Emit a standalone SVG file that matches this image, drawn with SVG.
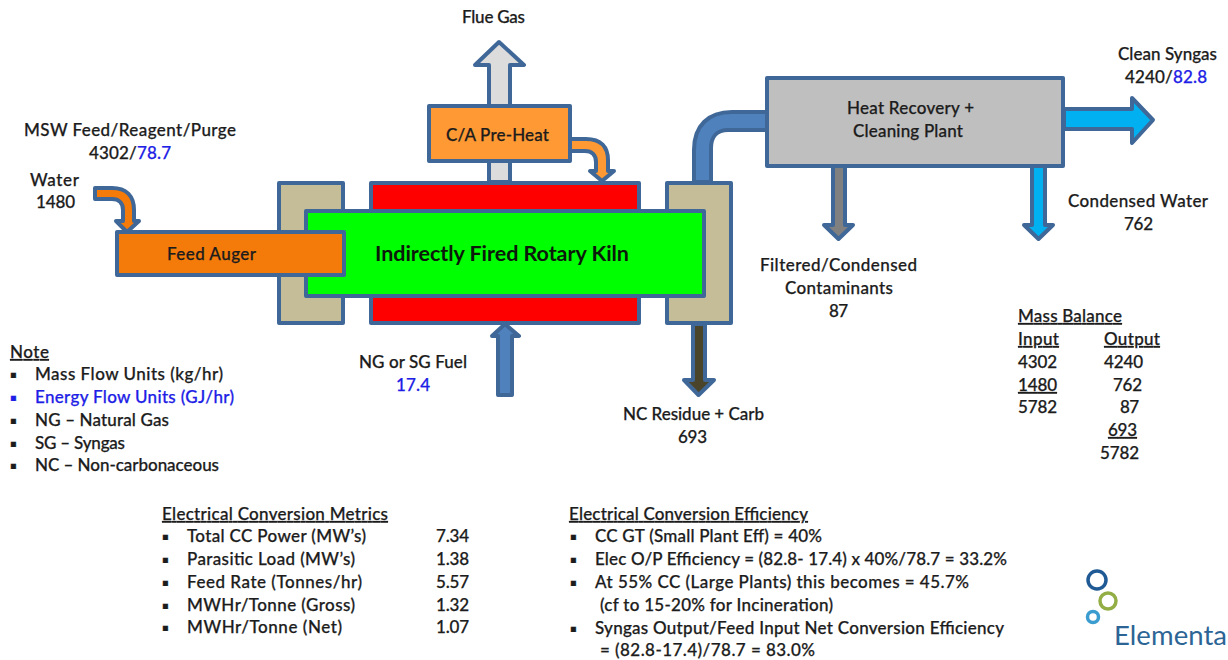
<svg xmlns="http://www.w3.org/2000/svg" width="1228" height="660" viewBox="0 0 1228 660">
<style>
text{font-family:"Lato","Carlito","Open Sans",sans-serif;font-size:17px;fill:#1c1c1c;font-weight:500;stroke:#1c1c1c;stroke-width:.25px;transform:translateY(1px)}
.m{text-anchor:middle}
.b{fill:#1e1ee6;stroke:#1e1ee6}
.u{text-decoration:underline}
.s{stroke:#3f6797;stroke-width:4;stroke-linejoin:round}
.p{font-family:"DejaVu Sans",sans-serif;font-size:10px;transform:translateY(-1.5px)}
.lg{fill:none;stroke-width:3.5}
</style>
<rect width="1228" height="660" fill="#fff"/>
<g id="connectors">
<path class="s" fill="#dcdcdc" d="M489 182V65H475L499 42L524 65H510V182Z"/>
<path class="s" fill="#4f81bd" d="M694 182V150C694 126 708 112 732 112H768V130H728C717 130 711 137 711 148V182Z"/>
<path class="s" fill="#f47b0a" d="M95 188H112C126 188 134 196 134 210V221H139L127 232L116 221H123V210C123 203 119 199 112 199H95Z"/>
<path class="s" fill="#ff9933" d="M568 139H586C601 139 608 147 608 160V171H614L602 181L590 171H596V162C596 155 592 151 585 151H568Z"/>
<path class="s" fill="#00b0f0" d="M1064 109H1132V98L1153 120L1132 143V129H1064Z"/>
<path class="s" fill="#808080" d="M833 166V225H824L838.500 239L853 225H845V166Z"/>
<path class="s" fill="#00b0f0" d="M1032 166V225H1024L1038.500 239L1053 225H1045V166Z"/>
<path class="s" fill="#4a452a" d="M693 324V380H684L698.500 395L714 380H705V324Z"/>
<path class="s" fill="#4f81bd" d="M498 395V336H492L505 324L519 336H512V395Z"/>
</g>
<g id="beige-left"><rect class="s" x="279" y="183" width="64" height="140" fill="#c4bd97"/></g>
<g id="beige-right"><rect class="s" x="667" y="183" width="64" height="140" fill="#c4bd97"/></g>
<g id="burner"><rect class="s" x="371" y="183" width="268" height="140" fill="#ff0000"/></g>
<g id="kiln"><rect class="s" x="306" y="211" width="398" height="85" fill="#00ff00"/>
<text class="m" x="502" y="260" textLength="254" style="font-size:21.5px;font-weight:700;fill:#0c1a0c;stroke:none">Indirectly Fired Rotary Kiln</text></g>
<g id="feed-auger"><rect class="s" x="117" y="232" width="227" height="43" fill="#f47b0a"/>
<text class="m" x="211.500" y="259" textLength="89">Feed Auger</text></g>
<g id="preheat"><rect class="s" x="429" y="106" width="141" height="55" fill="#ff9933"/>
<text class="m" x="497.500" y="140" textLength="103">C/A Pre-Heat</text></g>
<g id="cleaning"><rect class="s" x="767" y="78" width="296" height="88" fill="#bfbfbf"/>
<text class="m" x="910.500" y="113" textLength="127">Heat Recovery +</text>
<text class="m" x="908" y="136" textLength="110">Cleaning Plant</text></g>
<g id="labels">
<text class="m" x="493.500" y="22" textLength="63">Flue Gas</text>
<text class="m" x="130" y="135" textLength="212">MSW Feed/Reagent/Purge</text>
<text class="m" x="130" y="158" textLength="82">4302/<tspan class="b">78.7</tspan></text>
<text class="m" x="54.500" y="185" textLength="49">Water</text>
<text class="m" x="55.500" y="207" textLength="39">1480</text>
<text class="m" x="1167.500" y="59" textLength="99">Clean Syngas</text>
<text class="m" x="1166" y="82" textLength="82">4240/<tspan class="b">82.8</tspan></text>
<text class="m" x="1138" y="206" textLength="140">Condensed Water</text>
<text class="m" x="1138.500" y="229" textLength="29">762</text>
<text class="m" x="838.500" y="270" textLength="157">Filtered/Condensed</text>
<text class="m" x="839" y="293" textLength="108">Contaminants</text>
<text class="m" x="838.500" y="316" textLength="19">87</text>
<text class="m" x="413" y="367" textLength="108">NG or SG Fuel</text>
<text class="m b" x="413" y="390" textLength="34">17.4</text>
<text class="m" x="693.500" y="419" textLength="141">NC Residue + Carb</text>
<text class="m" x="692.500" y="442" textLength="29">693</text>
</g>
<g id="mass-balance">
<text class="u" x="1018" y="321" textLength="104">Mass Balance</text>
<text class="u" x="1018" y="344" textLength="41">Input</text>
<text class="u" x="1104" y="344" textLength="56">Output</text>
<text x="1018" y="367" textLength="39">4302</text><text x="1104" y="367" textLength="39">4240</text>
<text class="u" x="1018" y="390" textLength="39">1480</text><text x="1113" y="390" textLength="29">762</text>
<text x="1018" y="412" textLength="39">5782</text><text x="1120" y="412" textLength="19">87</text>
<text class="u" x="1108" y="435" textLength="29">693</text>
<text x="1100" y="458" textLength="39">5782</text>
</g>
<g id="note">
<text class="u" x="10" y="357" textLength="39">Note</text>
<text class="p" x="10" y="379">▪</text><text x="35" y="379" textLength="188">Mass Flow Units (kg/hr)</text>
<text class="p b" x="10" y="402">▪</text><text class="b" x="35" y="402" textLength="199">Energy Flow Units (GJ/hr)</text>
<text class="p" x="10" y="425">▪</text><text x="35" y="425" textLength="134">NG – Natural Gas</text>
<text class="p" x="10" y="448">▪</text><text x="35" y="448" textLength="90">SG – Syngas</text>
<text class="p" x="10" y="470">▪</text><text x="35" y="470" textLength="184">NC – Non-carbonaceous</text>
</g>
<g id="metrics">
<text class="u" x="162" y="519" textLength="226">Electrical Conversion Metrics</text>
<text class="p" x="162" y="541">▪</text><text x="187" y="541" textLength="179">Total CC Power (MW’s)</text><text x="436" y="541" textLength="33">7.34</text>
<text class="p" x="162" y="564">▪</text><text x="187" y="564" textLength="168">Parasitic Load (MW’s)</text><text x="436" y="564" textLength="33">1.38</text>
<text class="p" x="162" y="587">▪</text><text x="187" y="587" textLength="175">Feed Rate (Tonnes/hr)</text><text x="436" y="587" textLength="33">5.57</text>
<text class="p" x="162" y="610">▪</text><text x="187" y="610" textLength="168">MWHr/Tonne (Gross)</text><text x="436" y="610" textLength="33">1.32</text>
<text class="p" x="162" y="632">▪</text><text x="187" y="632" textLength="155">MWHr/Tonne (Net)</text><text x="436" y="632" textLength="33">1.07</text>
</g>
<g id="efficiency">
<text class="u" x="569" y="519" textLength="239">Electrical Conversion Efficiency</text>
<text class="p" x="570" y="541">▪</text><text x="595" y="541" textLength="227">CC GT (Small Plant Eff) = 40%</text>
<text class="p" x="570" y="564">▪</text><text x="595" y="564" textLength="412">Elec O/P Efficiency = (82.8- 17.4) x 40%/78.7 = 33.2%</text>
<text class="p" x="570" y="587">▪</text><text x="595" y="587" textLength="374">At 55% CC (Large Plants) this becomes  = 45.7%</text>
<text x="600" y="610" textLength="233">(cf to 15-20% for Incineration)</text>
<text class="p" x="570" y="633">▪</text><text x="595" y="633" textLength="409">Syngas Output/Feed Input Net Conversion Efficiency</text>
<text x="600" y="655" textLength="215">= (82.8-17.4)/78.7  = 83.0%</text>
</g>
<g id="logo">
<circle class="lg" cx="1097" cy="580" r="9" stroke="#1f5a94"/>
<circle class="lg" cx="1108" cy="601" r="8" stroke="#93ae45"/>
<circle class="lg" cx="1093" cy="617" r="5.500" stroke="#3b9cd0"/>
<text x="1114" y="644" textLength="113" style="font-size:27.5px;font-weight:400;fill:#2c6595;stroke:none">Elementa</text>
</g>
</svg>
